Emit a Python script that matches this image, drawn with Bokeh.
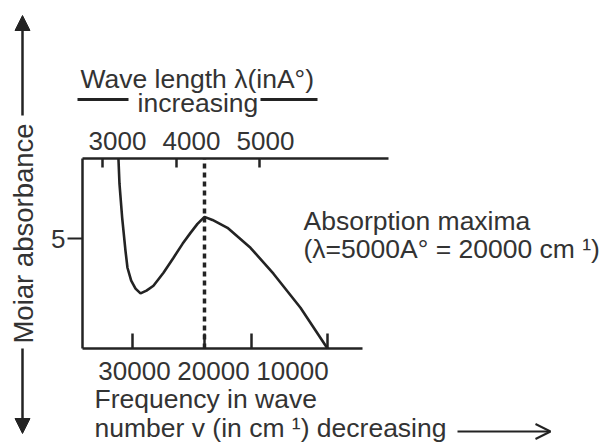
from math import pi
from bokeh.plotting import figure
from bokeh.models import (Range1d, LinearAxis, FixedTicker, Label, Arrow,
                          NormalHead, OpenHead)
from bokeh.embed import file_html
from bokeh.resources import INLINE

# ---------------- data ----------------
wavenumber = [32030, 31900, 31560, 31140, 30890, 30420, 29870, 29240, 28480,
              27600, 26330, 25060, 23920, 22910, 22030, 21140, 20130, 18230,
              15320, 12410, 8990, 5570]
absorbance = [8.64, 7.50, 5.95, 4.45, 3.68, 3.09, 2.73, 2.51, 2.64,
              2.86, 3.45, 4.14, 4.77, 5.27, 5.68, 6.00, 5.86, 5.50,
              4.59, 3.41, 1.86, 0.00]
lambda_max_wavenumber = 21140

freq_ticks = [30000, 20000, 10000]
freq_tick_labels = ["30000", "20000", "10000"]
freq_marks = [30250, 21140, 15190, 5570]

wl_ticks = [3000, 4000, 5000]
wl_tick_labels = ["3000", "4000", "5000"]
wl_marks = [2800, 3800, 4920]

abs_ticks = [5]
abs_tick_labels = ["5"]

# plot box extents (data units)
BOX_W_LEFT, BOX_W_BOTTOM_END = 36582, 1139       # wavenumber at box left / end of bottom line
BOX_WL = (2527, 6662)                             # wavelength extent of the top line
BOX_ABS = (0, 8.66)                               # absorbance extent of the box

# ---------------- page geometry ----------------
W, H = 600, 443
PX_PER_KW = 7.9          # px per 1000 cm^-1
X_20000 = 213            # px of 20000 cm^-1
PX_PER_KWL = 74          # px per 1000 A
X_3000 = 117             # px of 3000 A
PX_PER_ABS = 21.94
Y_ABS0 = 348             # px (from top) of absorbance 0

x_range = Range1d(20000 + X_20000 / PX_PER_KW * 1000,
                  20000 - (W - X_20000) / PX_PER_KW * 1000)
y_range = Range1d(-(H - Y_ABS0) / PX_PER_ABS, Y_ABS0 / PX_PER_ABS)
wl_range = Range1d(3000 - X_3000 / PX_PER_KWL * 1000,
                   3000 + (W - X_3000) / PX_PER_KWL * 1000)

INK = "#232323"
TXT = "#333333"
FONT = "Liberation Sans"
FSN = 26.5
FS = f"{FSN}px"

p = figure(width=W, height=H, output_backend="svg", toolbar_location=None,
           x_range=x_range, y_range=y_range,
           x_axis_location=None, y_axis_location=None,
           min_border=0)
p.outline_line_color = None
p.grid.visible = False
p.background_fill_color = "white"
p.border_fill_color = "white"
p.extra_x_ranges = {"wl": wl_range}


def style(ax, standoff):
    ax.axis_line_color = INK
    ax.axis_line_width = 2.5
    ax.major_label_text_font = FONT
    ax.major_label_text_font_size = "26px"
    ax.major_label_text_color = TXT
    ax.major_label_standoff = standoff
    ax.minor_tick_line_color = INK
    ax.minor_tick_line_width = 2.5
    ax.minor_tick_out = 0


xb = LinearAxis(ticker=FixedTicker(ticks=freq_ticks, minor_ticks=freq_marks),
                major_label_overrides=dict(zip(freq_ticks, freq_tick_labels)),
                bounds=(BOX_W_BOTTOM_END, BOX_W_LEFT), fixed_location=BOX_ABS[0])
style(xb, 13)
xb.major_tick_line_color = None
xb.major_tick_in = 0
xb.major_tick_out = 0
xb.minor_tick_in = 15
p.add_layout(xb, "below")

xt = LinearAxis(x_range_name="wl",
                ticker=FixedTicker(ticks=wl_ticks, minor_ticks=wl_marks),
                major_label_overrides=dict(zip(wl_ticks, wl_tick_labels)),
                bounds=BOX_WL, fixed_location=BOX_ABS[1])
style(xt, 8)
xt.major_tick_line_color = None
xt.major_tick_in = 0
xt.major_tick_out = 0
xt.minor_tick_in = 9
p.add_layout(xt, "above")

yl = LinearAxis(ticker=FixedTicker(ticks=abs_ticks),
                major_label_overrides=dict(zip(abs_ticks, abs_tick_labels)),
                bounds=BOX_ABS, fixed_location=BOX_W_LEFT)
style(yl, 2)
yl.major_tick_line_color = INK
yl.major_tick_line_width = 2
yl.major_tick_in = 0
yl.major_tick_out = 15
yl.minor_tick_line_color = None
p.add_layout(yl, "left")

# curve and λmax marker
p.line(wavenumber, absorbance, line_color=INK, line_width=2.6)
p.line([lambda_max_wavenumber, lambda_max_wavenumber], list(BOX_ABS),
       line_color=INK, line_width=3.5, line_dash="5 4")

# ---------------- annotations (page pixel positions; py = text baseline) ----------------
BASE_SHIFT = 0.36 * FSN


def lab(text, px, py, **kw):
    opts = dict(text_font=FONT, text_font_size=FS, text_color=TXT,
                text_baseline="alphabetic", text_align="left")
    opts.update(kw)
    if opts["text_baseline"] == "alphabetic":
        py = py - BASE_SHIFT
    p.add_layout(Label(x=px, y=H - py, x_units="screen", y_units="screen",
                       text=text, **opts))


def arrow(x0, y0, x1, y1, head=None, lw=2.5):
    p.add_layout(Arrow(x_start=x0, y_start=H - y0, x_end=x1, y_end=H - y1,
                       start_units="screen", end_units="screen",
                       line_color=INK, line_width=lw, end=head))


lab("Wave length λ(inA°)", 80, 88)
lab("increasing", 137, 112)
lab("Absorption maxima", 303, 230)
lab("(λ=5000A° = 20000 cm ¹)", 303, 258)
lab("Frequency in wave", 94, 408)
lab("number v (in cm ¹) decreasing", 94, 437)
lab("Moiar absorbance", 23, 233, angle=pi / 2, text_align="center",
    text_baseline="middle", text_font_size="27.5px")

arrow(77, 99, 128, 99, None, 3)
arrow(260, 99, 317, 99, None, 3)
arrow(22, 115, 22, 15, NormalHead(size=15, fill_color=INK, line_color=INK))
arrow(22, 348, 22, 433, NormalHead(size=15, fill_color=INK, line_color=INK))
arrow(457, 431, 550, 431, OpenHead(size=15, line_color=INK, line_width=2), 2.2)

open("out.html", "w").write(file_html(p, INLINE))
